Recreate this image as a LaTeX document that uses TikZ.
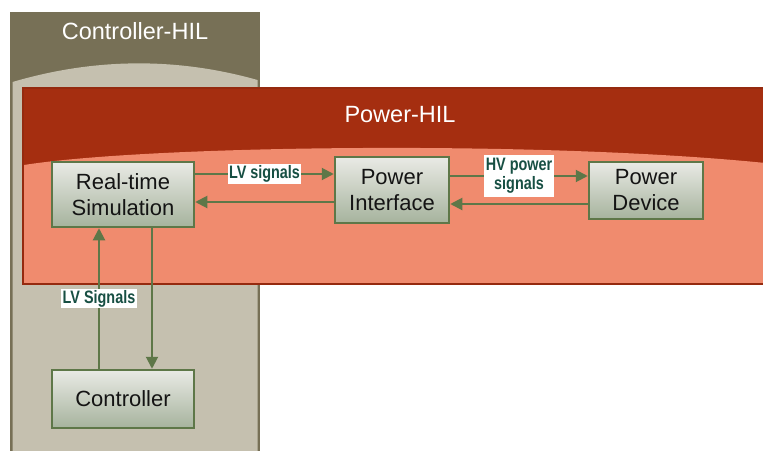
\documentclass[tikz,border=0pt]{standalone}
\usepackage{fontspec}
\setmainfont{Liberation Sans}
\usetikzlibrary{arrows.meta}
\definecolor{hilolive}{HTML}{777056}
\definecolor{hillight}{HTML}{C5C0AF}
\definecolor{pwrdark}{HTML}{A52E10}
\definecolor{pwredge}{HTML}{952A0F}
\definecolor{pwrlight}{HTML}{F08B6E}
\definecolor{boxtop}{HTML}{E9EAE5}
\definecolor{boxbot}{HTML}{A6B39D}
\definecolor{boxedge}{HTML}{5E7748}
\definecolor{arrowcol}{HTML}{5E7748}
\definecolor{lbltxt}{HTML}{174F43}
\tikzset{
  blockbox/.style={draw=boxedge, line width=2.5pt, top color=boxtop, bottom color=boxbot,
    inner sep=0pt, align=center, text=black!92, font=\fontsize{22}{26}\selectfont},
  conn/.style={draw=arrowcol, line width=2pt, -{Triangle[length=12pt,width=12pt]}},
  lbl/.style={fill=white, inner sep=1.5pt, text=lbltxt, font=\fontsize{18}{19.5}\selectfont\bfseries},
  titletxt/.style={text=white, font=\fontsize{23.5}{26}\selectfont}
}
\begin{document}
\begin{tikzpicture}[x=1pt,y=-1pt]
\useasboundingbox (0,0) rectangle (763,450);
\begin{scope}
\clip (0,0) rectangle (763,450);
% Controller-HIL region
\fill[hilolive] (10,12) rectangle (260,455);
\fill[hillight] (12.5,455) -- (12.5,82) .. controls (94,58) and (176,57) .. (257.5,80) -- (257.5,455) -- cycle;
\node[titletxt] (ctitle) at (135,31) {Controller-HIL};
% Power-HIL region
\fill[pwrdark] (23,88) rectangle (775,284);
\fill[pwrlight] (24,283) -- (24,165) .. controls (150,145) and (550,140) .. (775,164) -- (775,283) -- cycle;
\draw[pwredge, line width=2pt] (23,88) rectangle (775,284);
\node[titletxt] (ptitle) at (400,115) {Power-HIL};
\end{scope}
% blocks
\node[blockbox, minimum width=142pt, minimum height=65pt] (rts) at (123,194.5) {Real-time\\Simulation};
\node[blockbox, minimum width=114pt, minimum height=66pt] (pi) at (392,190) {Power\\Interface};
\node[blockbox, minimum width=114pt, minimum height=57pt] (pd) at (646,190.5) {Power\\Device};
\node[blockbox, minimum width=142pt, minimum height=58pt] (ctrl) at (123,399) {Controller};
% connectors
\draw[conn] (rts.east |- 0,174) -- node[lbl] {\scalebox{0.8}[1]{LV signals}} (pi.west |- 0,174);
\draw[conn] (pi.west |- 0,202) -- (rts.east |- 0,202);
\draw[conn] (pi.east |- 0,176) -- node[lbl] {\scalebox{0.8}[1]{\begin{tabular}{@{}c@{}}HV power\\ signals\end{tabular}}} (pd.west |- 0,176);
\draw[conn] (pd.west |- 0,204) -- (pi.east |- 0,204);
\draw[conn] (ctrl.north -| 99,0) -- node[lbl] {\scalebox{0.8}[1]{LV Signals}} (rts.south -| 99,0);
\draw[conn] (rts.south -| 152,0) -- (ctrl.north -| 152,0);
\end{tikzpicture}
\end{document}
